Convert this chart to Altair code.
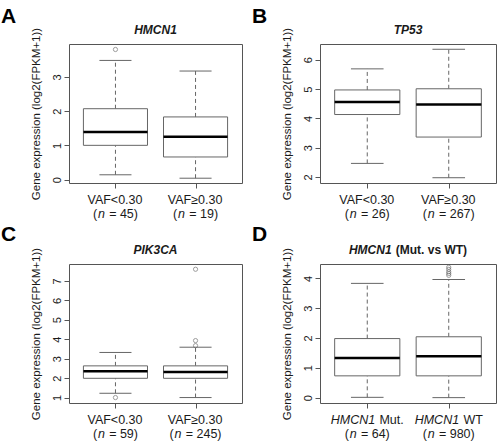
import altair as alt
import pandas as pd

FONT = "Liberation Sans"
FRAME = "#555555"
LINE = "#666666"
TEXT = "#1a1a1a"

# ---------------- data ----------------
panel_ids = ["A", "B", "C", "D"]
panel_titles = [
    [("HMCN1", "bi")],
    [("TP53", "bi")],
    [("PIK3CA", "bi")],
    [("HMCN1", "bi"), (" (Mut. vs WT)", "b")],
]
group_labels = [
    [[("VAF<0.30", "")], [("VAF≥0.30", "")]],
    [[("VAF<0.30", "")], [("VAF≥0.30", "")]],
    [[("VAF<0.30", "")], [("VAF≥0.30", "")]],
    [[("HMCN1", "i"), (" Mut.", "")], [("HMCN1", "i"), (" WT", "")]],
]
positions = [1, 2]
n_counts = [[45, 19], [26, 267], [59, 245], [64, 980]]
whisker_low = [[0.14, 0.04], [2.46, 1.97], [1.22, 1.00], [0.01, 0.00]]
q1_vals = [[1.00, 0.66], [4.13, 3.36], [1.99, 1.99], [0.73, 0.73]]
median_vals = [[1.39, 1.25], [4.56, 4.47], [2.35, 2.32], [1.33, 1.39]]
q3_vals = [[2.07, 1.83], [4.97, 5.01], [2.63, 2.63], [1.98, 2.04]]
whisker_high = [[3.48, 3.17], [5.69, 6.36], [3.32, 3.59], [3.83, 3.96]]
outlier_panel = ["A", "C", "C", "C", "C", "D", "D", "D", "D", "D"]
outlier_pos = [1, 1, 2, 2, 2, 2, 2, 2, 2, 2]
outlier_val = [3.80, 1.00, 7.60, 3.93, 3.67, 4.10, 4.16, 4.22, 4.30, 4.37]
y_domains = [[-0.10, 3.96], [1.79, 6.54], [0.72, 7.87], [-0.18, 4.48]]
y_ticks = [[0, 1, 2, 3], [2, 3, 4, 5, 6], [1, 2, 3, 4, 5, 6, 7], [0, 1, 2, 3, 4]]
y_title = "Gene expression (log2(FPKM+1))"

rows = []
for i, p in enumerate(panel_ids):
    for j, pos in enumerate(positions):
        rows.append(dict(panel=p, pos=pos, lo=whisker_low[i][j], q1=q1_vals[i][j],
                         med=median_vals[i][j], q3=q3_vals[i][j], hi=whisker_high[i][j]))
box_df = pd.DataFrame(rows)
out_df = pd.DataFrame(dict(panel=outlier_panel, pos=outlier_pos, val=outlier_val))

# --------------- text width helper (Arial/Liberation metrics) ---------------
REG = {' ': .278, '(': .333, ')': .333, '=': .584, '.': .278, '<': .584, '≥': .549,
       'V': .667, 'A': .667, 'F': .611, 'H': .722, 'M': .833, 'C': .722, 'N': .722,
       'u': .556, 't': .278, 'W': .944, 'T': .611, 'n': .556, 'v': .5, 's': .5}
BOLD = {' ': .278, '(': .333, ')': .333, '.': .278, 'H': .722, 'M': .833, 'C': .722,
        'N': .722, 'u': .611, 't': .333, 'v': .556, 's': .556, 'W': .944, 'T': .611,
        'P': .667, 'I': .278, 'K': .722, 'A': .722}
GAP = 0.8
LABEL_SIZE = 12.5


def text_width(s, size, bold):
    table = BOLD if bold else REG
    return sum(table.get(c, .556) for c in s) * size


def rich(segments, x_enc, y_px, size, data_x=None):
    total = sum(text_width(t, size, "b" in st) for t, st in segments) + GAP * (len(segments) - 1)
    left = -total / 2
    layers = []
    for t, st in segments:
        bold = "b" in st
        w = text_width(t, size, bold)
        stripped = t.lstrip(" ")
        lead = text_width(t[:len(t) - len(stripped)], size, bold)
        df = pd.DataFrame({"t": [stripped], "pos": [data_x if data_x is not None else 0]})
        layers.append(
            alt.Chart(df).mark_text(
                align="left", baseline="alphabetic", dx=left + lead, font=FONT,
                fontSize=size, fontStyle="italic" if "i" in st else "normal",
                fontWeight="bold" if bold else "normal", color=TEXT,
            ).encode(x=x_enc, y=alt.value(y_px), text="t:N")
        )
        left += w + GAP
    return layers


def panel(i, w, h, letter_dy):
    pid = panel_ids[i]
    xs = alt.Scale(domain=[0.42, 2.58], nice=False, zero=False)
    ys = alt.Scale(domain=y_domains[i], nice=False, zero=False)
    xa = alt.Axis(values=positions, labels=False, ticks=True, tickSize=5, tickColor=FRAME,
                  domain=False, grid=False, title=None)
    ya = alt.Axis(values=y_ticks[i], labelAngle=270, labelAlign="center",
                  labelBaseline="alphabetic", labelPadding=4, labelFontSize=11,
                  labelFont=FONT, labelColor=TEXT, tickSize=5, tickColor=FRAME,
                  domain=False, grid=False, title=y_title, titleFont=FONT,
                  titleFontSize=11.5, titleFontWeight="normal", titleColor=TEXT,
                  titlePadding=8, minExtent=20, maxExtent=20)

    def X(f):
        return alt.X(f, scale=xs, axis=xa)

    def Y(f):
        return alt.Y(f, scale=ys, axis=ya)

    base = alt.Chart(box_df[box_df.panel == pid]).transform_calculate(
        cl="datum.pos - 0.2", cr="datum.pos + 0.2",
        bl="datum.pos - 0.4", br="datum.pos + 0.4")
    whisk_lo = base.mark_rule(color=LINE, strokeDash=[4, 3], strokeWidth=1).encode(
        x=X("pos:Q"), y=Y("lo:Q"), y2="q1:Q")
    whisk_hi = base.mark_rule(color=LINE, strokeDash=[4, 3], strokeWidth=1).encode(
        x=X("pos:Q"), y=Y("q3:Q"), y2="hi:Q")
    cap_lo = base.mark_rule(color=LINE, strokeWidth=1).encode(
        x=X("cl:Q"), x2="cr:Q", y=Y("lo:Q"))
    cap_hi = base.mark_rule(color=LINE, strokeWidth=1).encode(
        x=X("cl:Q"), x2="cr:Q", y=Y("hi:Q"))
    box = base.mark_rect(fill="white", stroke=LINE, strokeWidth=1).encode(
        x=X("bl:Q"), x2="br:Q", y=Y("q1:Q"), y2="q3:Q")
    med = base.mark_rule(color="black", strokeWidth=2.5).encode(
        x=X("bl:Q"), x2="br:Q", y=Y("med:Q"))
    layers = [whisk_lo, whisk_hi, cap_lo, cap_hi, box, med]

    od = out_df[out_df.panel == pid]
    if len(od):
        layers.append(alt.Chart(od).mark_point(shape="circle", filled=False, size=18,
                                               strokeWidth=0.9, color=LINE).encode(
            x=X("pos:Q"), y=Y("val:Q")))

    # panel title
    layers += rich(panel_titles[i], alt.value(w / 2), -10, 12)
    # panel letter
    layers.append(alt.Chart(pd.DataFrame({"t": [pid]})).mark_text(
        align="left", baseline="alphabetic", font=FONT, fontSize=21, fontWeight="bold",
        color="black").encode(x=alt.value(-68), y=alt.value(letter_dy), text="t:N"))
    # x labels
    for j, pos in enumerate(positions):
        layers += rich(group_labels[i][j], X("pos:Q"), h + 21, LABEL_SIZE, data_x=pos)
        line2 = [("(", ""), ("n", "i"), (f" = {n_counts[i][j]})", "")]
        layers += rich(line2, X("pos:Q"), h + 35, LABEL_SIZE, data_x=pos)

    return alt.layer(*layers).properties(width=w, height=h)


pA = panel(0, 173, 139, -21)
pB = panel(1, 176, 139, -21)
pC = panel(2, 173, 139, -23.5)
pD = panel(3, 176, 139, -23.5)

chart = alt.concat(
    pA, pB, pC, pD, columns=2,
    spacing={"row": 81, "column": 78}, bounds="flush", align="each",
).properties(
    padding={"left": 0, "top": 5, "right": 0, "bottom": 0}
).configure_view(stroke=FRAME, strokeWidth=1)

chart.save("out.html", embed_options={"renderer": "svg", "actions": False})
